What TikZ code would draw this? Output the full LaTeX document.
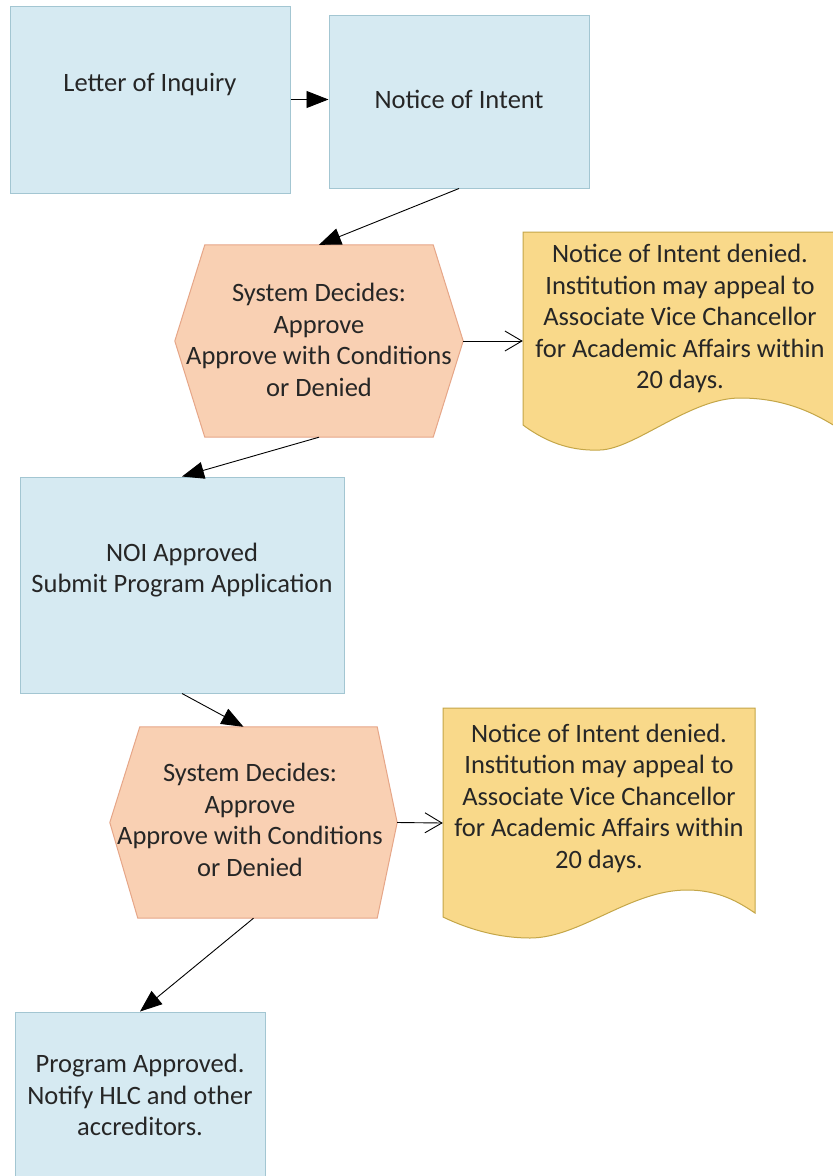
\documentclass[tikz,border=0pt]{standalone}
\usepackage{fontspec}
\setmainfont{Carlito}
\usetikzlibrary{arrows.meta}
\definecolor{boxfill}{HTML}{D6EAF2}
\definecolor{boxline}{HTML}{A3C6D2}
\definecolor{hexfill}{HTML}{F9D0B3}
\definecolor{hexline}{HTML}{E6A688}
\definecolor{docfill}{HTML}{F9D98A}
\definecolor{docline}{HTML}{C4A648}
\definecolor{txt}{HTML}{262626}
\begin{document}
\begin{tikzpicture}[x=1pt,y=-1pt,
  bluebox/.style={draw=boxline, fill=boxfill, line width=1pt, rectangle, inner sep=0pt},
  frame/.style={rectangle, inner sep=0pt},
  lbl/.style={font=\fontsize{26.5}{31.5}\selectfont, text=txt, align=center, inner sep=0pt},
  solidarrow/.style={draw=black, line width=0.9pt, -{Triangle[length=22pt,width=17pt]}},
  openarrow/.style={draw=black, line width=0.9pt, -{Straight Barb[length=17pt,width=20pt]}},
  hexshape/.style={draw=hexline, fill=hexfill, line width=1pt},
  docshape/.style={draw=docline, fill=docfill, line width=1pt}]
\useasboundingbox (0,0) rectangle (833,1176);
\clip (0,0) rectangle (833,1176);
\fill[white] (0,0) rectangle (833,1176);

% blue boxes
\node[bluebox, minimum width=280pt, minimum height=187pt] (box1) at (150,99.5) {};
\node[bluebox, minimum width=260pt, minimum height=173pt] (box2) at (459,101.5) {};
\node[bluebox, minimum width=324pt, minimum height=216pt] (noi) at (182,585) {};
\node[bluebox, minimum width=250pt, minimum height=178pt] (prog) at (140,1101) {};

% hexagons
\node[frame, minimum width=288pt, minimum height=192pt] (hex1) at (319,341) {};
\path[hexshape] ([xshift=30pt]hex1.north west) -- ([xshift=-30pt]hex1.north east) -- (hex1.east)
  -- ([xshift=-30pt]hex1.south east) -- ([xshift=30pt]hex1.south west) -- (hex1.west) -- cycle;
\node[frame, minimum width=287pt, minimum height=191pt] (hex2) at (253.5,822.5) {};
\path[hexshape] ([xshift=30pt]hex2.north west) -- ([xshift=-20pt]hex2.north east) -- (hex2.east)
  -- ([xshift=-20pt]hex2.south east) -- ([xshift=28pt]hex2.south west) -- (hex2.west) -- cycle;

% documents
\node[frame, minimum width=315pt, minimum height=218pt] (doc1) at (680.5,341) {};
\path[docshape] (523,232) -- (838,232) -- (838,428)
  .. controls (810,410) and (780,398) .. (740,398)
  .. controls (690,398) and (635,449) .. (600,450)
  .. controls (575,451) and (550,445) .. (523,425) -- cycle;
\node[frame, minimum width=312pt, minimum height=230pt] (doc2) at (599,823) {};
\path[docshape] (443,708) -- (755,708) -- (755,913)
  .. controls (740,903) and (720,890) .. (687,890)
  .. controls (630,890) and (580,938) .. (530,938)
  .. controls (500,938) and (470,930) .. (443,917) -- cycle;

% connectors
\draw[solidarrow] (box1.east) -- (box1.east -| box2.west);
\draw[solidarrow] (box2.south) -- (hex1.north);
\draw[openarrow] (hex1.east) -- (doc1.west);
\draw[solidarrow] (hex1.south) -- (noi.north);
\draw[solidarrow] (noi.south) -- ([xshift=-10pt]hex2.north);
\draw[openarrow] (hex2.east) -- (doc2.west);
\draw[solidarrow] (hex2.south) -- (prog.north);

% labels
\node[lbl] (t1) at (150,85) {Letter of Inquiry};
\node[lbl] (t2) at (459,99) {Notice of Intent};
\node[lbl] (t3) at (319,340) {System Decides:\\Approve\\Approve with Conditions\\or Denied};
\node[lbl] (t4) at (680,318.8) {Notice of Intent denied.\\Institution may appeal to\\Associate Vice Chancellor\\for Academic Affairs within\\20 days.};
\node[lbl] (t5) at (182,570) {NOI Approved\\Submit Program Application};
\node[lbl] (t6) at (250,820) {System Decides:\\Approve\\Approve with Conditions\\or Denied};
\node[lbl] (t7) at (599,798) {Notice of Intent denied.\\Institution may appeal to\\Associate Vice Chancellor\\for Academic Affairs within\\20 days.};
\node[lbl] (t8) at (140,1095) {Program Approved.\\Notify HLC and other\\accreditors.};
\end{tikzpicture}
\end{document}
